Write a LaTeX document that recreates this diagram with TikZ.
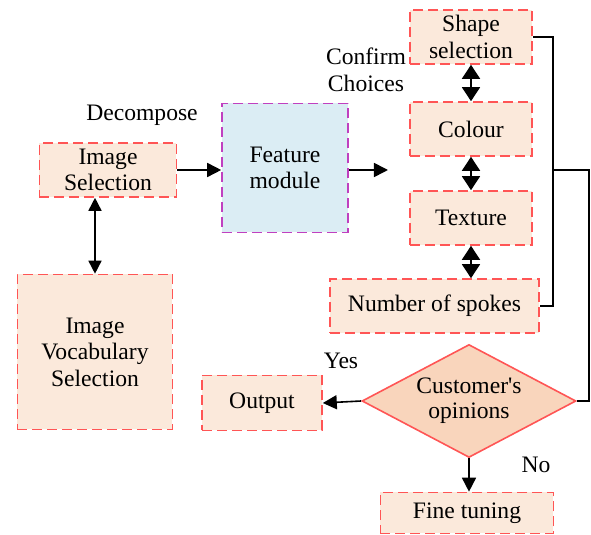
\documentclass[tikz,border=0pt]{standalone}
\usepackage{fontspec}
\setmainfont{Liberation Serif}
\usetikzlibrary{shapes.geometric,arrows.meta}
\definecolor{boxfill}{HTML}{FBE9DB}
\definecolor{boxline}{HTML}{FF5555}
\definecolor{featfill}{HTML}{DBEDF4}
\definecolor{featline}{HTML}{C040C0}
\definecolor{decfill}{HTML}{F9D5BC}

\begin{document}
\begin{tikzpicture}[x=0.5pt,y=-0.5pt,
          font=\rmfamily\fontsize{11.8}{13.2}\selectfont,
          box/.style={draw=boxline,fill=boxfill,dash pattern=on 5pt off 2.5pt,
            line width=0.8pt,align=center,inner sep=1pt,
            minimum width=61pt,minimum height=27pt},
          arr/.style={-{Triangle[length=7pt,width=7pt]},line width=0.8pt},
          twoway/.style={{Triangle[length=6.5pt,width=6.5pt]}-{Triangle[length=6.5pt,width=6.5pt]},line width=0.8pt},
          fatway/.style={{Triangle[length=7pt,width=9pt]}-{Triangle[length=7pt,width=9pt]},line width=0.8pt},
          link/.style={line width=0.8pt}]
          \useasboundingbox (0,0) rectangle (591,535);
          % left part
          \node[box,minimum width=68.5pt] (imgsel) at (108,170) {Image\\Selection};
          \node[box,minimum width=77.5pt,minimum height=77.5pt] (vocab) at (95,352) {Image\\Vocabulary\\Selection};
          \node[box,draw=featline,fill=featfill,minimum width=63pt,minimum height=64.5pt] (feature) at (285,168) {Feature\\module};
          \node (decomp) at (142,115) {Decompose};
          % choices
          \node[box] (shape) at (471,37) {Shape\\selection};
          \node[box] (colour) at (471,129) {Colour};
          \node[box] (texture) at (471,218) {Texture};
          \node[box,minimum width=104.5pt] (spokes) at (434.5,306) {Number of spokes};
          \node[align=center] (confirm) at (366,70) {Confirm\\Choices};
          % decision
          \node[diamond,draw=boxline,fill=decfill,line width=0.8pt,align=center,
                inner sep=0pt,aspect=1.9,minimum width=107pt,minimum height=56.5pt,
                font=\rmfamily\fontsize{11.8}{12.6}\selectfont] (opinion) at (469,401) {Customer\textquotesingle s\\opinions};
          \node[box,minimum width=60pt,minimum height=27.5pt] (output) at (262,403) {Output};
          \node[box,minimum width=86.5pt,minimum height=20.5pt] (tuning) at (467,513) {Fine tuning};
          \node (yes) at (341,361) {Yes};
          \node (no) at (536,465) {No};
          \coordinate (featout) at (388,170);
          \coordinate (join) at (553,170);
          % connectors
          \draw[arr] (imgsel) -- (feature.west |- imgsel);
          \draw[arr] (feature.east |- imgsel) -- (featout);
          \draw[twoway] (imgsel.south -| vocab) -- (vocab.north);
          \draw[fatway] (shape) -- (colour);
          \draw[fatway] (colour) -- (texture);
          \draw[fatway] (texture) -- (texture |- spokes.north);
          \draw[link] (shape.east) -| (join) |- (spokes.east);
          \draw[link] (join) -- ++(36,0) |- (opinion.east);
          \draw[arr] (opinion.west) -- (output.east);
          \draw[arr] (opinion.south) -- (opinion.south |- tuning.north);
        \end{tikzpicture}
\end{document}
